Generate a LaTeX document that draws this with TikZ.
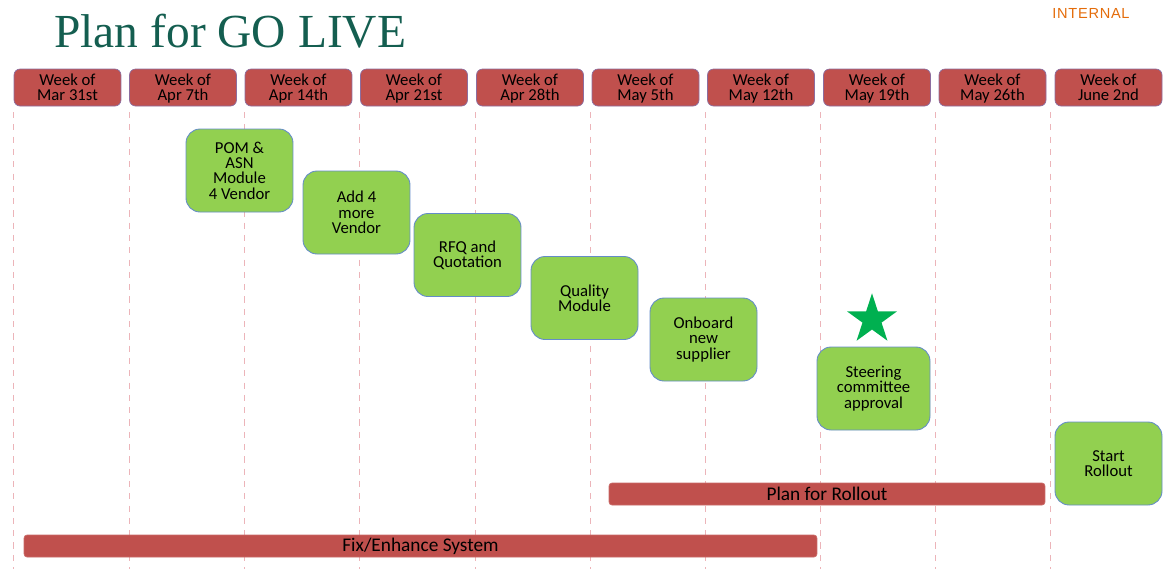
\documentclass[tikz,border=0pt]{standalone}
\usepackage{fontspec}
\setsansfont{Carlito}
\newfontfamily\titlefont{Liberation Serif}
\newfontfamily\tagfont[LetterSpace=5]{Liberation Sans}
\usepackage{tikz}
\usetikzlibrary{shapes.geometric}

\definecolor{weekred}{RGB}{192,80,77}
\definecolor{weekedge}{RGB}{140,110,160}
\definecolor{taskgreen}{RGB}{146,208,80}
\definecolor{taskedge}{RGB}{100,140,200}
\definecolor{gridpink}{RGB}{236,180,185}
\definecolor{titleteal}{RGB}{20,94,80}
\definecolor{tagorange}{RGB}{228,108,10}
\definecolor{stargreen}{RGB}{0,176,80}

\begin{document}
\begin{tikzpicture}[x=0.02cm, y=-0.02cm,
    week/.style={draw=weekedge, line width=0.4pt, fill=weekred, rounded corners=0.12cm,
        minimum width=2.14cm, minimum height=0.74cm, inner sep=0pt, align=center,
        text depth=0.5pt, font=\sffamily\fontsize{9.5}{8.4}\selectfont},
    task/.style={draw=taskedge, line width=0.5pt, fill=taskgreen, rounded corners=0.28cm,
        minimum width=2.14cm, minimum height=1.66cm, inner sep=0pt, align=center,
        font=\sffamily\fontsize{9.5}{8.7}\selectfont},
    bar/.style={fill=weekred, draw=weekred!85!white, rounded corners=0.06cm,
        minimum height=0.44cm, inner sep=0pt,
        font=\sffamily\fontsize{11}{12}\selectfont}]

    \useasboundingbox (0,0) rectangle (1165,569);

    % week separators
    \draw [gridpink, line width=0.5pt, dash pattern=on 3.5pt off 3.5pt]
          (13, 112) -- (13, 569)
          (129, 112) -- (129, 569)
          (244, 112) -- (244, 569)
          (359, 112) -- (359, 569)
          (475, 112) -- (475, 569)
          (590, 112) -- (590, 569)
          (705, 112) -- (705, 569)
          (820, 112) -- (820, 569)
          (935, 112) -- (935, 569)
          (1050, 112) -- (1050, 569);

    \node[anchor=base west, text=titleteal, inner sep=0pt, font=\titlefont\fontsize{27}{30}\selectfont]
        (title) at (54, 47) {Plan for GO LIVE};
    \node[anchor=base west, text=tagorange, inner sep=0pt, font=\tagfont\fontsize{8.3}{10}\selectfont]
        (internal) at (1052, 18.5) {INTERNAL};

    % week headers
    \node[week] (wkMar31) at (67.5, 87.5) {Week of\\Mar 31st};
    \node[week] (wkApr7) at (183, 87.5) {Week of\\Apr 7th};
    \node[week] (wkApr14) at (298.5, 87.5) {Week of\\Apr 14th};
    \node[week] (wkApr21) at (414, 87.5) {Week of\\Apr 21st};
    \node[week] (wkApr28) at (530, 87.5) {Week of\\Apr 28th};
    \node[week] (wkMay5) at (645.5, 87.5) {Week of\\May 5th};
    \node[week] (wkMay12) at (761, 87.5) {Week of\\May 12th};
    \node[week] (wkMay19) at (877, 87.5) {Week of\\May 19th};
    \node[week] (wkMay26) at (992.5, 87.5) {Week of\\May 26th};
    \node[week] (wkJun2) at (1108.5, 87.5) {Week of\\June 2nd};

    % tasks
    \node[task] (pom) at (239.5, 170.5) {POM \&\\ASN\\Module\\4 Vendor};
    \node[task] (addvendor) at (356.5, 212.5) {Add 4\\more\\Vendor};
    \node[task] (rfq) at (467.5, 255) {RFQ and\\Quotation};
    \node[task] (quality) at (584.5, 298) {Quality\\Module};
    \node[task] (onboard) at (703.5, 339.5) {Onboard\\new\\supplier};
    \node[task, minimum width=2.26cm] (steering) at (873.5, 388.5) {Steering\\committee\\approval};
    \node[task] (rollout) at (1108.5, 463.5) {Start\\Rollout};

    \node[star, star points=5, star point ratio=2.618, fill=stargreen, inner sep=0pt,
          minimum size=1.05cm] (milestone) at (872, 319.5) {};

    % running bars
    \node[bar, minimum width=8.72cm] (planbar) at (827, 494) {Plan for Rollout};
    \node[bar, minimum width=15.86cm] (fixbar) at (420.5, 546) {Fix/Enhance System};
\end{tikzpicture}
\end{document}
